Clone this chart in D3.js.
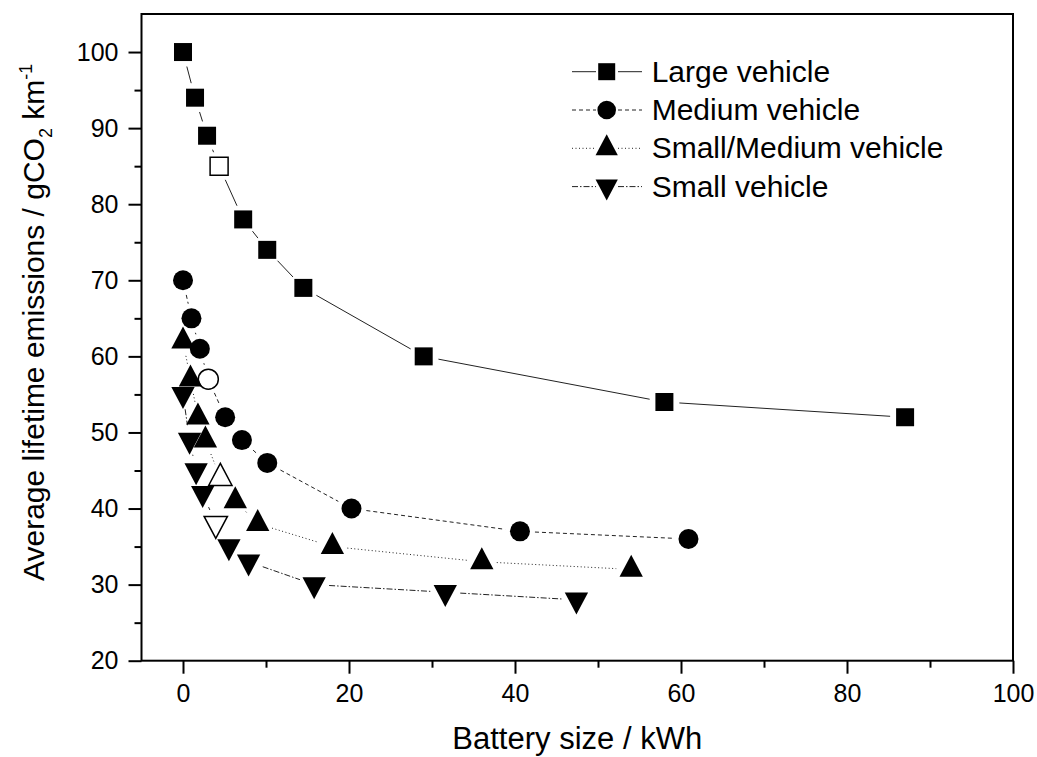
<!DOCTYPE html>
<html><head><meta charset="utf-8">
<script src="https://cdn.jsdelivr.net/npm/d3@7"></script>
<style>
body{margin:0;background:#fff;}
svg{display:block;}
text{font-family:"Liberation Sans",Arial,sans-serif;fill:#000;}
</style>
</head><body>
<svg id="chart" width="1037" height="757"></svg>
<script>
// ---- data ----
const seriesNames = ["Large vehicle", "Medium vehicle", "Small/Medium vehicle", "Small vehicle"];
const largeX = [0, 1.45, 2.9, 4.35, 7.25, 10.15, 14.5, 29, 58, 87];
const largeY = [100, 94, 89, 85, 78, 74, 69, 60, 54, 52];
const largeHollow = [0, 0, 0, 1, 0, 0, 0, 0, 0, 0];
const mediumX = [0, 1.02, 2.03, 3.05, 5.08, 7.1, 10.15, 20.3, 40.6, 60.9];
const mediumY = [70, 65, 61, 57, 52, 49, 46, 40, 37, 36];
const mediumHollow = [0, 0, 0, 1, 0, 0, 0, 0, 0, 0];
const smallMediumX = [0, 0.9, 1.8, 2.7, 4.5, 6.3, 9, 18, 36, 54];
const smallMediumY = [62, 57, 52, 49, 44, 41, 38, 35, 33, 32];
const smallMediumHollow = [0, 0, 0, 0, 1, 0, 0, 0, 0, 0];
const smallX = [0, 0.79, 1.58, 2.37, 3.95, 5.53, 7.9, 15.8, 31.6, 47.4];
const smallY = [55, 49, 45, 42, 38, 35, 33, 30, 29, 28];
const smallHollow = [0, 0, 0, 0, 1, 0, 0, 0, 0, 0];
const xMajorTicks = [0, 20, 40, 60, 80, 100];
const xMinorTicks = [10, 30, 50, 70, 90];
const yMajorTicks = [20, 30, 40, 50, 60, 70, 80, 90, 100];
const yMinorTicks = [25, 35, 45, 55, 65, 75, 85, 95];

// ---- styles ----
const triUp = { draw(ctx, size) { const h = Math.sqrt(size), w = h * 1.06;
  ctx.moveTo(0, -2 * h / 3); ctx.lineTo(w / 2, h / 3); ctx.lineTo(-w / 2, h / 3); ctx.closePath(); } };
const triDown = { draw(ctx, size) { const h = Math.sqrt(size), w = h * 1.06;
  ctx.moveTo(0, 2 * h / 3); ctx.lineTo(w / 2, -h / 3); ctx.lineTo(-w / 2, -h / 3); ctx.closePath(); } };
const styles = [
  { sym: d3.symbolSquare, size: 18 * 18, lsize: 17 * 17, dash: null },
  { sym: d3.symbolCircle, size: Math.PI * 10 * 10, lsize: Math.PI * 9.3 * 9.3, dash: "4,3" },
  { sym: triUp, size: 22 * 22, lsize: 21 * 21, dash: "1,2.5" },
  { sym: triDown, size: 22 * 22, lsize: 21 * 21, dash: "6,2,1.5,2" }
];
const seriesX = [largeX, mediumX, smallMediumX, smallX];
const seriesY = [largeY, mediumY, smallMediumY, smallY];
const seriesH = [largeHollow, mediumHollow, smallMediumHollow, smallHollow];
const series = seriesNames.map((n, i) => ({
  name: n, style: styles[i],
  pts: seriesX[i].map((xv, j) => ({ x: xv, y: seriesY[i][j], hollow: seriesH[i][j] }))
}));

const L = 141.5, R = 1013, T = 14, B = 660.7;
const x = d3.scaleLinear().domain([-5, 100]).range([L, R]);
const y = d3.scaleLinear().domain([20, 105]).range([B, T]);
const svg = d3.select("#chart");

// ---- axes ----
function styleAxis(g) {
  g.select(".domain").remove();
  g.selectAll(".tick line").attr("stroke", "#000").attr("stroke-width", 2);
  g.selectAll(".tick text").style("font-size", "25px").attr("fill", "#000");
}
svg.append("g").attr("transform", `translate(0,${B})`)
  .call(d3.axisBottom(x).tickValues(xMajorTicks).tickSize(13).tickPadding(11).tickFormat(d3.format("d")))
  .call(styleAxis);
svg.append("g").attr("transform", `translate(0,${B})`)
  .call(d3.axisBottom(x).tickValues(xMinorTicks).tickSize(7).tickFormat(""))
  .call(styleAxis);
svg.append("g").attr("transform", `translate(${L},0)`)
  .call(d3.axisLeft(y).tickValues(yMajorTicks).tickSize(13).tickPadding(10).tickFormat(d3.format("d")))
  .call(styleAxis);
svg.append("g").attr("transform", `translate(${L},0)`)
  .call(d3.axisLeft(y).tickValues(yMinorTicks).tickSize(7).tickFormat(""))
  .call(styleAxis);

svg.append("rect").attr("x", L).attr("y", T).attr("width", R - L).attr("height", B - T)
  .attr("fill", "none").attr("stroke", "#000").attr("stroke-width", 2);

// ---- connecting lines with gaps at symbols ----
const gap = 15;
series.forEach(s => {
  const segs = [];
  for (let j = 1; j < s.pts.length; j++) {
    const x1 = x(s.pts[j - 1].x), y1 = y(s.pts[j - 1].y), x2 = x(s.pts[j].x), y2 = y(s.pts[j].y);
    const len = Math.hypot(x2 - x1, y2 - y1);
    if (len > 2 * gap + 1) {
      const ux = (x2 - x1) / len, uy = (y2 - y1) / len;
      segs.push([x1 + ux * gap, y1 + uy * gap, x2 - ux * gap, y2 - uy * gap]);
    }
  }
  svg.append("g").selectAll("line").data(segs).join("line")
    .attr("x1", d => d[0]).attr("y1", d => d[1]).attr("x2", d => d[2]).attr("y2", d => d[3])
    .attr("stroke", "#222").attr("stroke-width", 1)
    .attr("stroke-dasharray", s.style.dash);
});

// ---- markers ----
series.forEach(s => {
  svg.append("g").selectAll("path").data(s.pts).join("path")
    .attr("transform", d => `translate(${x(d.x)},${y(d.y)})`)
    .attr("d", d3.symbol().type(s.style.sym).size(s.style.size)())
    .attr("fill", d => d.hollow ? "#fff" : "#000")
    .attr("stroke", "#000").attr("stroke-width", d => d.hollow ? 1.5 : 0);
});

// ---- legend ----
const legX = 606.7, legY0 = 71.7, legDy = 38.3;
series.forEach((s, i) => {
  const cy = legY0 + i * legDy;
  const g = svg.append("g");
  g.append("line").attr("x1", 572).attr("x2", 596).attr("y1", cy).attr("y2", cy)
    .attr("stroke", "#222").attr("stroke-width", 1).attr("stroke-dasharray", s.style.dash);
  g.append("line").attr("x1", 618).attr("x2", 642).attr("y1", cy).attr("y2", cy)
    .attr("stroke", "#222").attr("stroke-width", 1).attr("stroke-dasharray", s.style.dash);
  g.append("path").attr("transform", `translate(${legX},${cy})`)
    .attr("d", d3.symbol().type(s.style.sym).size(s.style.lsize)()).attr("fill", "#000");
  g.append("text").attr("x", 651.7).attr("y", cy + 10).style("font-size", "30px").text(s.name);
});

// ---- axis titles ----
svg.append("text").attr("x", (L + R) / 2).attr("y", 749).attr("text-anchor", "middle")
  .style("font-size", "31px").text("Battery size / kWh");
const yt = svg.append("text").attr("transform", "translate(43.5,581) rotate(-90)")
  .attr("text-anchor", "start").style("font-size", "30px");
yt.append("tspan").text("Average lifetime emissions / gCO");
yt.append("tspan").attr("dy", 8).style("font-size", "18px").text("2");
yt.append("tspan").attr("dy", -8).text(" km");
yt.append("tspan").attr("dy", -12).style("font-size", "18px").text("-1");
</script>
</body></html>
